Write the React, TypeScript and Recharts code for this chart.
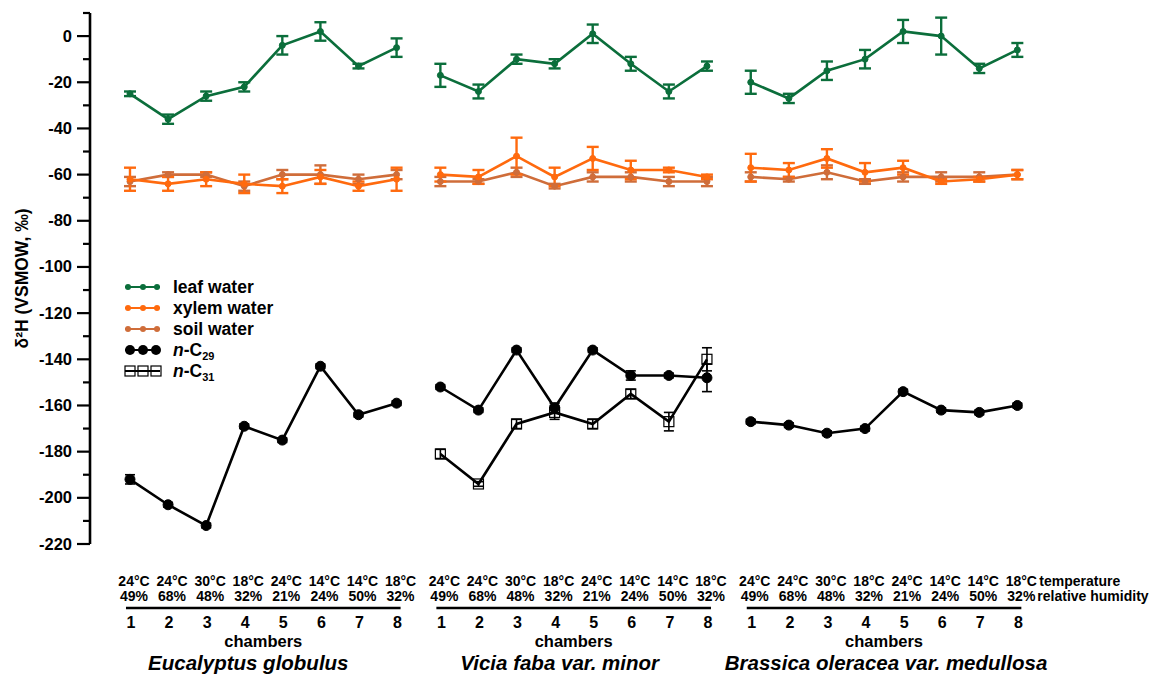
import React from "react";
import { ComposedChart, Line, XAxis, YAxis, ErrorBar } from "recharts";

const FONT = "'Liberation Sans', Arial, sans-serif";

const CHAMBERS = [1, 2, 3, 4, 5, 6, 7, 8];
const TEMPERATURE = ["24°C", "24°C", "30°C", "18°C", "24°C", "14°C", "14°C", "18°C"];
const HUMIDITY = ["49%", "68%", "48%", "32%", "21%", "24%", "50%", "32%"];
const SPECIES = ["Eucalyptus globulus", "Vicia faba var. minor", "Brassica oleracea var. medullosa"];
const Y_TICKS = [10, 0, -10, -20, -30, -40, -50, -60, -70, -80, -90, -100, -110, -120, -130, -140, -150, -160, -170, -180, -190, -200, -210, -220];

// Eucalyptus globulus
const EUC_LEAF = [-25, -36, -26, -22, -4, 2, -13, -5];
const EUC_LEAF_ERR = [1, 2, 2, 2, 4, 4, 1, 4];
const EUC_XYLEM = [-62, -64, -62, -64, -65, -61, -65, -62];
const EUC_XYLEM_ERR = [5, 3, 3, 4, 3, 3, 2, 5];
const EUC_SOIL = [-63, -60, -60, -65, -60, -60, -62, -60];
const EUC_SOIL_ERR = [2, 1, 1, 2, 2, 4, 2, 2];
const EUC_C29 = [-192, -203, -212, -169, -175, -143, -164, -159];
const EUC_C29_ERR = [2, 1, 1, 1, 1, 1, 1, 1];

// Vicia faba var. minor
const VIC_LEAF = [-17, -24, -10, -12, 1, -12, -24, -13];
const VIC_LEAF_ERR = [5, 3, 2, 2, 4, 3, 3, 2];
const VIC_XYLEM = [-60, -61, -52, -61, -53, -58, -58, -61];
const VIC_XYLEM_ERR = [3, 3, 8, 4, 5, 4, 1, 1];
const VIC_SOIL = [-63, -63, -59, -65, -61, -61, -63, -63];
const VIC_SOIL_ERR = [2, 1, 2, 1, 2, 2, 2, 2];
const VIC_C29 = [-152, -162, -136, -161, -136, -147, -147, -148];
const VIC_C29_ERR = [1, 1, 1, 2, 1, 2, 1, 6];
const VIC_C31 = [-181, -194, -168, -163, -168, -155, -167, -140];
const VIC_C31_ERR = [2, 1, 2, 3, 2, 2, 4, 5];

// Brassica oleracea var. medullosa
const BRA_LEAF = [-20, -27, -15, -10, 2, 0, -14, -6];
const BRA_LEAF_ERR = [5, 2, 4, 4, 5, 8, 2, 3];
const BRA_XYLEM = [-57, -58, -53, -59, -57, -63, -62, -60];
const BRA_XYLEM_ERR = [6, 3, 4, 4, 3, 1, 1, 2];
const BRA_SOIL = [-61, -62, -59, -63, -61, -61, -61, -60];
const BRA_SOIL_ERR = [2, 1, 3, 1, 2, 2, 2, 2];
const BRA_C29 = [-167, -168.5, -172, -170, -154, -162, -163, -160];
const BRA_C29_ERR = [1, 1, 1, 1, 1, 1, 1, 1];

const LEAF = "#0b6e3b";
const XYLEM = "#ff6a0e";
const SOIL = "#cf6d3a";
const BLACK = "#000";

// layout: panels share one numeric x axis, each panel shifted by PANEL_STEP chambers
const W = 1158;
const H = 677;
const MARGIN = { top: 13, right: 114, bottom: 0, left: 0 };
const Y_AXIS_W = 90;
const X_DOMAIN = [-0.05, 25];
const PANEL_STEP = 8.15;
const STEP_PX = (W - MARGIN.right - Y_AXIS_W) / (X_DOMAIN[1] - X_DOMAIN[0]);

const toPoints = (panel: number, values: number[], errs: number[]) =>
  values.map((v, i) => ({ x: CHAMBERS[i] + panel * PANEL_STEP, y: v, err: errs[i] }));

const SERIES = [
  { id: "leaf0", kind: "water", color: LEAF, data: toPoints(0, EUC_LEAF, EUC_LEAF_ERR) },
  { id: "leaf1", kind: "water", color: LEAF, data: toPoints(1, VIC_LEAF, VIC_LEAF_ERR) },
  { id: "leaf2", kind: "water", color: LEAF, data: toPoints(2, BRA_LEAF, BRA_LEAF_ERR) },
  { id: "soil0", kind: "water", color: SOIL, data: toPoints(0, EUC_SOIL, EUC_SOIL_ERR) },
  { id: "soil1", kind: "water", color: SOIL, data: toPoints(1, VIC_SOIL, VIC_SOIL_ERR) },
  { id: "soil2", kind: "water", color: SOIL, data: toPoints(2, BRA_SOIL, BRA_SOIL_ERR) },
  { id: "xyl0", kind: "water", color: XYLEM, data: toPoints(0, EUC_XYLEM, EUC_XYLEM_ERR) },
  { id: "xyl1", kind: "water", color: XYLEM, data: toPoints(1, VIC_XYLEM, VIC_XYLEM_ERR) },
  { id: "xyl2", kind: "water", color: XYLEM, data: toPoints(2, BRA_XYLEM, BRA_XYLEM_ERR) },
  { id: "c31_1", kind: "c31", color: BLACK, data: toPoints(1, VIC_C31, VIC_C31_ERR) },
  { id: "c29_0", kind: "c29", color: BLACK, data: toPoints(0, EUC_C29, EUC_C29_ERR) },
  { id: "c29_1", kind: "c29", color: BLACK, data: toPoints(1, VIC_C29, VIC_C29_ERR) },
  { id: "c29_2", kind: "c29", color: BLACK, data: toPoints(2, BRA_C29, BRA_C29_ERR) },
];

const X_TICKS = SERIES[0].data.concat(SERIES[1].data, SERIES[2].data).map((d) => d.x);

const SquareDot = (props: any) => {
  const { cx, cy } = props;
  if (cx == null || cy == null) return null;
  return (
    <rect key={`sq-${cx}-${cy}`} x={cx - 5} y={cy - 5} width={10} height={10}
      fill="none" stroke="#000" strokeWidth={1.2} />
  );
};

const YTick = (props: any) => {
  const { x, y, payload } = props;
  const v = payload.value;
  const major = v % 20 === 0;
  return (
    <g>
      <line x1={x - (major ? 13 : 7)} x2={x} y1={y} y2={y} stroke="#000" strokeWidth={2.2} />
      {major && (
        <text x={x - 18} y={y} dy={5.5} textAnchor="end" fontFamily={FONT}
          fontWeight="bold" fontSize={16.5} fill="#000">
          {v}
        </text>
      )}
    </g>
  );
};

const XTick = (props: any) => {
  const { x, y, index } = props;
  const panel = Math.floor(index / 8);
  const i = index % 8;
  const txt = { fontFamily: FONT, fontWeight: "bold" as const, fill: "#000" };
  const speciesShift = [-15, -14, 2][panel];
  const mid = x + STEP_PX / 2;
  return (
    <g>
      <text x={x + 4} y={y + 42} textAnchor="middle" fontSize={14} {...txt}>{TEMPERATURE[i]}</text>
      <text x={x + 4} y={y + 57} textAnchor="middle" fontSize={14} {...txt}>{HUMIDITY[i]}</text>
      {i === 0 && (
        <line x1={x - 4} x2={x + 7 * STEP_PX + 4} y1={y + 64} y2={y + 64} stroke="#000" strokeWidth={2.6} />
      )}
      <text x={x + 1} y={y + 84} textAnchor="middle" fontSize={16} {...txt}>{CHAMBERS[i]}</text>
      {i === 3 && (
        <>
          <text x={mid} y={y + 103} textAnchor="middle" fontSize={16.5} {...txt}>chambers</text>
          <text x={mid + speciesShift} y={y + 126} textAnchor="middle" fontSize={20.5}
            fontStyle="italic" {...txt}>{SPECIES[panel]}</text>
        </>
      )}
      {index === 23 && (
        <>
          <text x={x + 22} y={y + 42} fontSize={14} {...txt}>temperature</text>
          <text x={x + 20} y={y + 57} fontSize={14} {...txt}>relative humidity</text>
        </>
      )}
    </g>
  );
};

const LEGEND_ITEMS = [
  { label: "leaf water", kind: "water", color: LEAF },
  { label: "xylem water", kind: "water", color: XYLEM },
  { label: "soil water", kind: "water", color: SOIL },
  { label: "C29", kind: "c29", color: BLACK },
  { label: "C31", kind: "c31", color: BLACK },
];

const LegendBox = () => (
  <svg width={200} height={112} style={{ display: "block" }}>
    {LEGEND_ITEMS.map((it, k) => {
      const cy = 11 + k * 21;
      const xs = it.kind === "water" ? [10, 25, 39] : [12, 25, 38];
      return (
        <g key={it.label}>
          <line x1={7} x2={42} y1={cy} y2={cy} stroke={it.color} strokeWidth={2.2} />
          {xs.map((cx) =>
            it.kind === "c31" ? (
              <rect key={cx} x={cx - 5} y={cy - 5} width={10} height={10} fill="none"
                stroke="#000" strokeWidth={1.2} />
            ) : (
              <circle key={cx} cx={cx} cy={cy} r={it.kind === "water" ? 3 : 5} fill={it.color} />
            )
          )}
          <text x={55} y={cy + 6} fontFamily={FONT} fontWeight="bold" fontSize={17.5} fill="#000">
            {it.kind === "water" ? (
              it.label
            ) : (
              <>
                <tspan fontStyle="italic">n</tspan>
                <tspan>-C</tspan>
                <tspan dy={4} fontSize={11}>{it.label.slice(1)}</tspan>
              </>
            )}
          </text>
        </g>
      );
    })}
  </svg>
);

export default function App() {
  return (
    <div style={{ position: "absolute", left: 0, top: 0, width: W, height: H, background: "#fff" }}>
      <ComposedChart width={W} height={H} margin={MARGIN}>
        <XAxis
          type="number"
          dataKey="x"
          domain={X_DOMAIN}
          ticks={X_TICKS}
          interval={0}
          allowDataOverflow
          axisLine={false}
          tickLine={false}
          tickSize={0}
          tickMargin={0}
          height={133}
          tick={<XTick />}
        />
        <YAxis
          type="number"
          domain={[-220, 10]}
          ticks={Y_TICKS}
          interval={0}
          allowDataOverflow
          width={Y_AXIS_W}
          tickSize={0}
          tickMargin={0}
          tickLine={false}
          axisLine={{ stroke: "#000", strokeWidth: 2.6 }}
          tick={<YTick />}
          label={{
            value: "δ²H (VSMOW, ‰)",
            angle: -90,
            position: "insideLeft",
            offset: 22,
            style: { textAnchor: "middle", fontFamily: FONT, fontWeight: "bold", fontSize: 17.5, fill: "#000" },
          }}
        />
        {SERIES.map((s) => (
          <Line
            key={s.id}
            data={s.data}
            dataKey="y"
            type="linear"
            stroke={s.color}
            strokeWidth={2.6}
            isAnimationActive={false}
            activeDot={false}
            legendType="none"
            dot={
              s.kind === "c31"
                ? SquareDot
                : { r: s.kind === "c29" ? 5 : 3, fill: s.color, stroke: s.color, strokeWidth: 1 }
            }
          >
            <ErrorBar
              dataKey="err"
              direction="y"
              width={s.kind === "water" ? 6 : 5}
              stroke={s.color}
              strokeWidth={s.kind === "water" ? 2.4 : 1.6}
              isAnimationActive={false}
            />
          </Line>
        ))}
      </ComposedChart>
      <div style={{ position: "absolute", left: 118, top: 276 }}>
        <LegendBox />
      </div>
    </div>
  );
}
